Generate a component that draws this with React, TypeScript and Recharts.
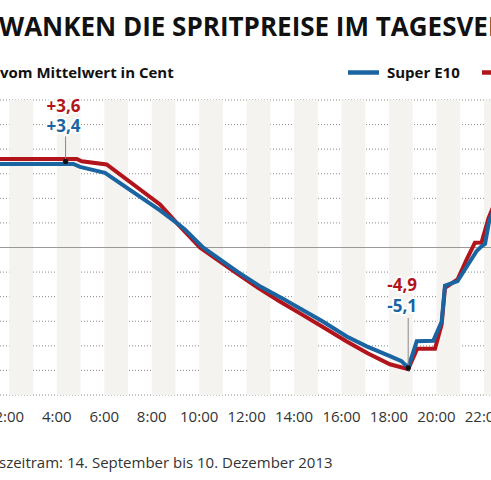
import React from 'react';
import { LineChart, Line, XAxis, YAxis, CartesianGrid, ReferenceArea, ReferenceLine, ReferenceDot } from 'recharts';

// Abweichung vom Mittelwert in Cent, Stundenwerte (Uhrzeit als Dezimalstunde)
const e10Hours = [0, 4.37, 4.7, 4.98, 6.03, 8.35, 9.05, 9.4, 10.16, 11.64, 12.6, 13.53, 14.25, 15.16, 16.22, 17.06, 18.04, 18.53, 18.81, 19.17, 19.87, 20.22, 20.36, 20.89, 21.69, 21.9, 22.05, 22.22, 22.5];
const e10Values = [3.4, 3.4, 3.4, 3.28, 3.04, 1.51, 1.0, 0.73, 0.0, -1.0, -1.6, -2.08, -2.48, -2.98, -3.62, -4.02, -4.42, -4.62, -4.9, -3.81, -3.79, -3.02, -1.55, -1.37, -0.15, 0.05, 0.15, 1.07, 1.7];

const superHours = [0, 4.37, 4.84, 5.05, 6.1, 8.35, 9.05, 10.03, 11.51, 12.5, 13.4, 14.25, 15.16, 16.22, 17.1, 18.04, 18.81, 19.19, 19.94, 20.22, 20.36, 20.89, 21.27, 21.62, 21.9, 22.2, 22.5];
const superValues = [3.6, 3.6, 3.6, 3.51, 3.38, 1.75, 1.0, 0.0, -1.0, -1.65, -2.2, -2.68, -3.2, -3.82, -4.3, -4.75, -4.95, -4.12, -4.12, -3.13, -1.64, -1.3, -0.49, 0.19, 0.2, 1.2, 1.9];

const tickHours = [2, 4, 6, 8, 10, 12, 14, 16, 18, 20, 22];
const bandStarts = [0, 2, 4, 6, 8, 10, 12, 14, 16, 18, 20, 22];
const yTicks = [-6, -5, -4, -3, -2, -1, 0, 1, 2, 3, 4, 5, 6];

const maxPoint = { hour: 4.37, value: 3.5, e10: '+3,4', super: '+3,6' };
const minPoint = { hour: 18.81, value: -4.9, e10: '-5,1', super: '-4,9' };

const BLUE = '#1a64a2';
const RED = '#b2141c';
const FONT = '"Open Sans", sans-serif';

const e10Data = e10Hours.map((h, i) => ({ h, v: e10Values[i] }));
const superData = superHours.map((h, i) => ({ h, v: superValues[i] }));

const halo = { stroke: '#fff', strokeWidth: 4, paintOrder: 'stroke' as const };

const annotation = (p: typeof maxPoint, redDy: number, blueDy: number, lineDy: number, dx: number) =>
  (props: any) => {
    const { cx, cy } = props;
    return (
      <g>
        <line x1={cx} x2={cx} y1={cy + lineDy} y2={cy} stroke="#888" strokeWidth={1} />
        <text x={cx + dx} y={cy + redDy} textAnchor="middle" fill={RED} fontSize={17} fontWeight={700} fontFamily={FONT} {...halo}>
          {p.super}
        </text>
        <text x={cx + dx} y={cy + blueDy} textAnchor="middle" fill={BLUE} fontSize={17} fontWeight={700} fontFamily={FONT} {...halo}>
          {p.e10}
        </text>
        <circle cx={cx} cy={cy} r={2.6} fill="#111" />
      </g>
    );
  };

export default function App() {
  return (
    <div style={{ position: 'fixed', left: 0, top: 0, width: 491, height: 480, overflow: 'hidden', background: '#fff' }}>
      <svg width={491} height={480} style={{ position: 'absolute', left: 0, top: 0 }}>
        <text x={-1} y={36} fontSize={26} fontWeight={700} fontFamily={FONT} fill="#111">
          WANKEN DIE SPRITPREISE IM TAGESVERLAUF
        </text>
        <text x={0} y={78} fontSize={15} fontWeight={700} fontFamily={FONT} fill="#111">
          vom Mittelwert in Cent
        </text>
        <line x1={348} x2={379} y1={72.5} y2={72.5} stroke={BLUE} strokeWidth={4.5} />
        <text x={387} y={78} fontSize={15} fontWeight={700} fontFamily={FONT} fill="#111">
          Super E10
        </text>
        <line x1={482} x2={513} y1={72.5} y2={72.5} stroke={RED} strokeWidth={4.5} />
        <text x={-1} y={468} fontSize={15} fontFamily={FONT} fill="#333">
          szeitram: 14. September bis 10. Dezember 2013
        </text>
      </svg>
      <div style={{ position: 'absolute', left: 0, top: 0 }}>
        <LineChart width={491} height={425} margin={{ top: 100, right: 0, bottom: 0, left: 0 }}>
          {bandStarts.map((b) => (
            <ReferenceArea key={b} x1={b} x2={b + 1} y1={-6} y2={6} fill="#f4f3ef" fillOpacity={1} stroke="none" ifOverflow="hidden" />
          ))}
          <CartesianGrid horizontal vertical={false} stroke="#8a8a8a" strokeDasharray="1 2" />
          <ReferenceLine y={0} stroke="#999" strokeWidth={1.2} />
          <XAxis
            type="number"
            dataKey="h"
            domain={[1.606, 22.3]}
            allowDataOverflow
            ticks={tickHours}
            interval={0}
            tickFormatter={(h: number) => `${h}:00`}
            axisLine={false}
            tickLine={false}
            tickSize={0}
            tickMargin={16}
            height={30}
            tick={{ fill: '#333', fontSize: 15, fontFamily: FONT }}
          />
          <YAxis hide type="number" domain={[-6, 6]} ticks={yTicks} allowDataOverflow />
          <Line data={superData} dataKey="v" type="linear" stroke={RED} strokeWidth={4} dot={false} isAnimationActive={false} />
          <Line data={e10Data} dataKey="v" type="linear" stroke={BLUE} strokeWidth={4} dot={false} isAnimationActive={false} />
          <ReferenceDot x={maxPoint.hour} y={maxPoint.value} ifOverflow="visible" shape={annotation(maxPoint, -49, -29, -25, -2)} />
          <ReferenceDot x={minPoint.hour} y={minPoint.value} ifOverflow="visible" shape={annotation(minPoint, -77, -56, -50, -6)} />
        </LineChart>
      </div>
    </div>
  );
}
